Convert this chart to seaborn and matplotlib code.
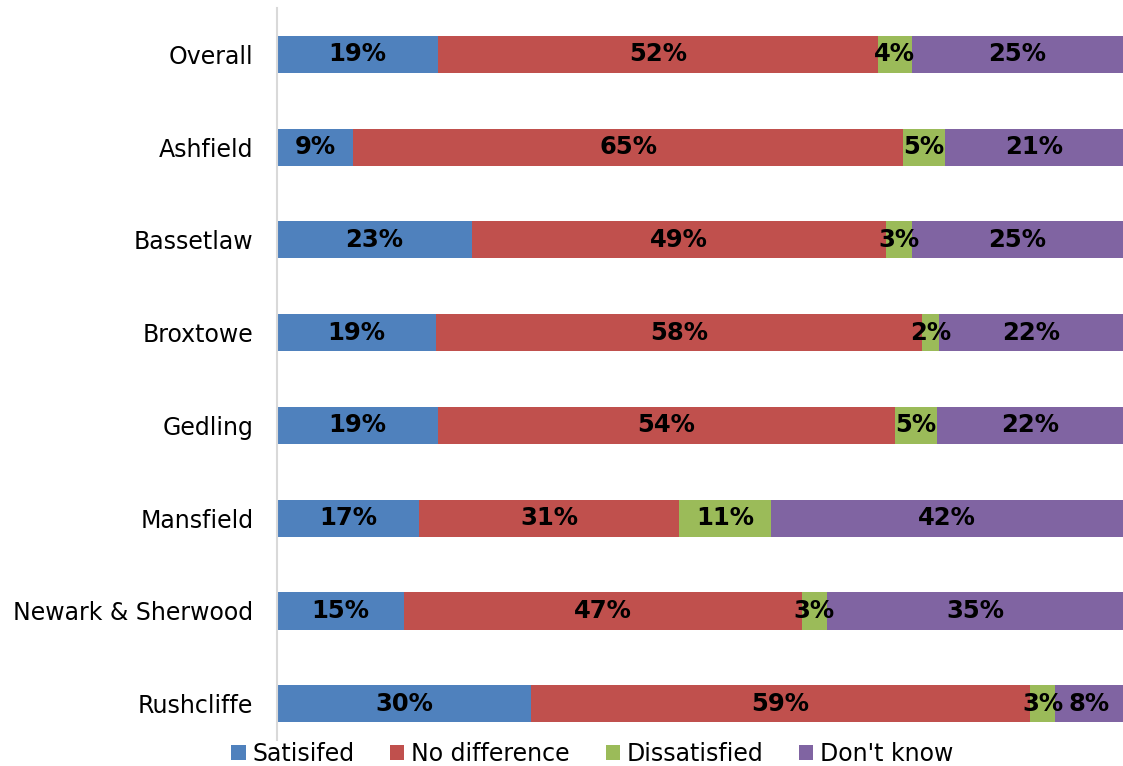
import numpy as np
import pandas as pd
import matplotlib
matplotlib.use("Agg")
import matplotlib.pyplot as plt
from matplotlib.patches import Patch
import seaborn as sns

# Survey results by district (percent of respondents)
areas = ["Overall", "Ashfield", "Bassetlaw", "Broxtowe", "Gedling",
         "Mansfield", "Newark & Sherwood", "Rushcliffe"]
satisfied = [19, 9, 23, 19, 19, 17, 15, 30]
no_difference = [52, 65, 49, 58, 54, 31, 47, 59]
dissatisfied = [4, 5, 3, 2, 5, 11, 3, 3]
dont_know = [25, 21, 25, 22, 22, 42, 35, 8]

series_names = ["Satisifed", "No difference", "Dissatisfied", "Don't know"]
series_colors = ["#4F81BD", "#C0504D", "#9BBB59", "#8064A2"]

sns.set_style("white")
plt.rcParams["font.family"] = ["DejaVu Sans"]
plt.rcParams["text.color"] = "black"

values = np.array([satisfied, no_difference, dissatisfied, dont_know], dtype=float)
# each row is shown as a 100% stacked bar
shares = values / values.sum(axis=0) * 100
cum = np.cumsum(shares, axis=0)

fig = plt.figure(figsize=(11.23, 7.66), dpi=100)
ax = fig.add_axes([0.2467, 0.034, 0.7533, 0.9556])

# paint cumulative totals from the outermost segment inwards
for i in range(len(series_names) - 1, -1, -1):
    df = pd.DataFrame({"area": areas, "total": cum[i]})
    sns.barplot(data=df, x="total", y="area", order=areas, orient="h",
                color=series_colors[i], saturation=1, width=0.4,
                linewidth=0, ax=ax)

for i in range(len(series_names)):
    for j, area in enumerate(areas):
        left = cum[i][j] - shares[i][j]
        ax.text(left + shares[i][j] / 2, j, f"{int(values[i][j])}%",
                ha="center", va="center", fontsize=17.5, fontweight="bold",
                color="black")

ax.set_xlim(0, 100)
ax.set_ylim(7.39, -0.5)
ax.set_xlabel("")
ax.set_ylabel("")
ax.set_xticks([])
ax.tick_params(axis="y", labelsize=17, length=0, pad=17, labelcolor="black")
for s in ["top", "right", "bottom"]:
    ax.spines[s].set_visible(False)
ax.spines["left"].set_color("#D9D9D9")
ax.spines["left"].set_linewidth(1.5)

handles = [Patch(facecolor=c, edgecolor="none", label=n)
           for n, c in zip(series_names, series_colors)]
fig.legend(handles=handles, loc="center", bbox_to_anchor=(0.5276, 0.0157),
           ncol=4, frameon=False, fontsize=17, handlelength=0.6,
           handleheight=0.6, handletextpad=0.3, columnspacing=1.5,
           labelcolor="black")

fig.savefig("out.png", dpi=100)
